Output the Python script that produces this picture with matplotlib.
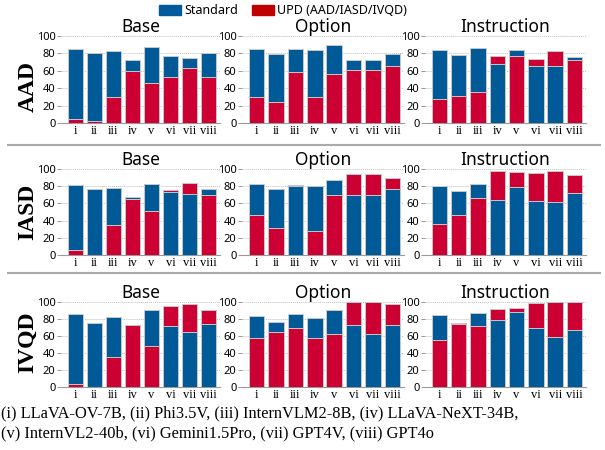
import numpy as np
import matplotlib.pyplot as plt
from matplotlib.patches import Patch
from matplotlib.lines import Line2D

models = ['i', 'ii', 'iii', 'iv', 'v', 'vi', 'vii', 'viii']
settings = ['Base', 'Option', 'Instruction']
tasks = ['AAD', 'IASD', 'IVQD']

# accuracy per setting (Base, Option, Instruction) for each model i..viii
aad_std = [[85, 80, 82.5, 72, 87, 77, 74.5, 81],
           [85, 79, 84.5, 83.5, 89.5, 72.5, 72.5, 79],
           [84, 78, 86, 68, 83.5, 65.5, 65, 76]]
aad_upd = [[5, 2, 30, 60, 46, 53, 63.5, 53],
           [29.5, 24, 59, 30, 56.5, 60.5, 60.5, 66],
           [28, 31, 35.5, 77.5, 77.5, 73.5, 82.5, 72.5]]
iasd_std = [[81, 76.5, 78, 68, 83, 73, 70.5, 77],
            [82, 77, 80.5, 80, 87, 70, 70, 77],
            [80.5, 74.5, 82.5, 64, 78.5, 63, 62, 72.5]]
iasd_upd = [[5.5, 0, 35, 65.5, 51.5, 76, 84, 69.5],
            [47, 31, 81.5, 28, 69.5, 94, 94, 89.5],
            [36, 46.5, 66.5, 97.5, 96, 95, 97.5, 92.5]]
ivqd_std = [[85.5, 75.5, 82.5, 73.5, 90.5, 72, 64.5, 74],
            [84, 76, 85.5, 81.5, 91, 73.5, 62.5, 72.5],
            [85, 75, 86.5, 79, 88.5, 69, 58.5, 67]]
ivqd_upd = [[3, 0, 35, 72.5, 48, 95.5, 98, 90.5],
            [58, 65, 70, 58, 62.5, 99.5, 99.5, 97.5],
            [55.5, 74, 72, 92, 93, 99, 100, 100]]

std_all = [aad_std, iasd_std, ivqd_std]
upd_all = [aad_upd, iasd_upd, ivqd_upd]

blue = '#015a98'
red = '#cc0033'

W, H = 605, 450
fig = plt.figure(figsize=(W / 100, H / 100), dpi=100)

# panel boxes in pixels
col_left = [61, 242, 425]
col_w = [159, 162, 161]
row_top = [36, 169, 302]
row_bot = [123, 255, 387]
row_mid = [86, 212, 342]

x = np.arange(len(models))
for r in range(3):
    for c in range(3):
        ax = fig.add_axes([col_left[c] / W, 1 - row_bot[r] / H,
                           col_w[c] / W, (row_bot[r] - row_top[r]) / H])
        s = std_all[r][c]
        u = upd_all[r][c]
        for i in range(len(models)):
            # taller bar goes behind so both stay visible
            zs, zu = (2, 3) if s[i] >= u[i] else (3, 2)
            ax.bar(x[i], s[i], 0.8, color=blue, edgecolor='#c8c8c8',
                   linewidth=0.7, zorder=zs)
            ax.bar(x[i], u[i], 0.8, color=red, edgecolor='#c8c8c8',
                   linewidth=0.7, zorder=zu)
        ax.set_xlim(-0.75, 7.6)
        ax.set_ylim(0, 100)
        ax.set_yticks([0, 20, 40, 60, 80, 100])
        ax.yaxis.grid(True, color='#c0c0c0', linestyle=(0, (1, 1)),
                      linewidth=0.7, zorder=0)
        ax.set_axisbelow(True)
        for sp in ['top', 'right', 'left']:
            ax.spines[sp].set_visible(False)
        ax.spines['bottom'].set_color('#999999')
        ax.spines['bottom'].set_linewidth(0.8)
        ax.set_xticks(x)
        ax.set_xticklabels(models, family='Liberation Serif', fontsize=9)
        ax.tick_params(axis='x', length=0, pad=1.5)
        ax.tick_params(axis='y', length=3, width=0.6, color='#888888',
                       pad=1, labelsize=8)
        for lab in ax.get_yticklabels():
            lab.set_family('Noto Sans')
        ax.set_title(settings[c], family='Noto Sans', fontsize=12.5, pad=2)
    fig.text(28 / W, 1 - row_mid[r] / H, tasks[r], rotation=90,
             family='Liberation Serif', fontweight='bold', fontsize=17,
             ha='center', va='center')

# separators between task rows
for yy in [145, 273]:
    fig.add_artist(Line2D([8 / W, 600 / W], [1 - yy / H, 1 - yy / H],
                          color='#aaaaaa', linewidth=1.5))

handles = [Patch(color='#005a9c'), Patch(color='#c00000')]
fig.legend(handles, ['Standard', 'UPD (AAD/IASD/IVQD)'],
           loc='center', bbox_to_anchor=(283 / W, 1 - 11 / H), ncol=2,
           frameon=False, prop={'family': 'Noto Sans', 'size': 9},
           handlelength=1.76, handleheight=0.9, handletextpad=0.25,
           columnspacing=1.1, borderpad=0)

fig.text(1 / W, 1 - 413 / H,
         '(i) LLaVA-OV-7B, (ii) Phi3.5V, (iii) InternVLM2-8B, (iv) LLaVA-NeXT-34B,',
         family='Liberation Serif', fontsize=11.8, ha='left', va='center')
fig.text(1 / W, 1 - 433 / H,
         '(v) InternVL2-40b, (vi) Gemini1.5Pro, (vii) GPT4V, (viii) GPT4o',
         family='Liberation Serif', fontsize=11.8, ha='left', va='center')

fig.savefig('out.png', dpi=100)
